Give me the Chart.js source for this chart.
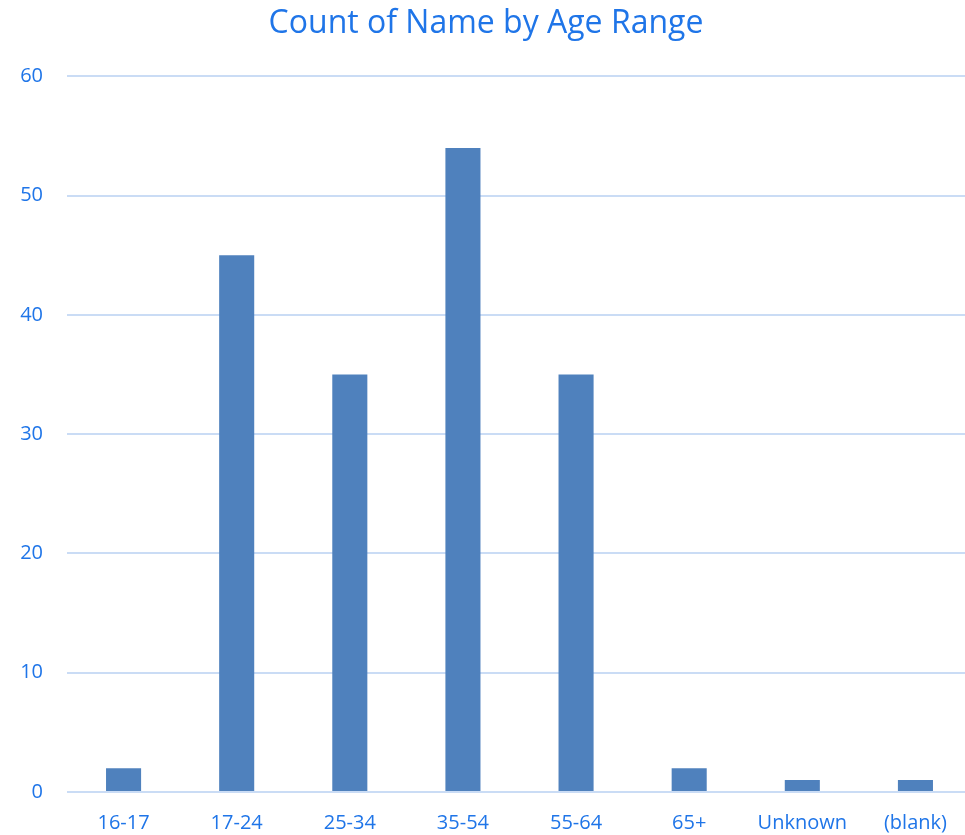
<!DOCTYPE html>
<html>
<head>
<meta charset="utf-8">
<script src="https://cdn.jsdelivr.net/npm/chart.js@4"></script>
<style>
  html, body { margin: 0; padding: 0; background: #fff; overflow: hidden; }
  #wrap { width: 972px; height: 835px; }
</style>
</head>
<body>
<div id="wrap"><canvas id="chart-bar-age" width="972" height="835"></canvas></div>
<script>
const ageRanges = ["16-17", "17-24", "25-34", "35-54", "55-64", "65+", "Unknown", "(blank)"];
const nameCounts = [2, 45, 35, 54, 35, 2, 1, 1];
const yTicks = [0, 10, 20, 30, 40, 50, 60];

const textBlue = "#1F75E8";
const gridBlue = "#CADCF5";

function createBarChart(labels, values) {
  const data = {
    labels: labels,
    datasets: [
      {
        label: "Count of Name",
        data: values,
        backgroundColor: "#4F81BD",
        categoryPercentage: 1,
        barPercentage: 0.31,
      },
    ],
  };

  new Chart(document.getElementById("chart-bar-age"), {
    type: "bar",
    data: data,
    options: {
      responsive: false,
      animation: false,
      layout: { padding: 0 },
      plugins: {
        legend: { display: false },
        tooltip: { enabled: false },
        title: {
          display: true,
          text: "Count of Name by Age Range",
          color: textBlue,
          font: { family: "Open Sans", size: 32, weight: "normal" },
          padding: { top: 5, bottom: 33 },
        },
      },
      scales: {
        x: {
          grid: { display: false, drawTicks: false },
          border: { display: false },
          ticks: {
            color: textBlue,
            font: { family: "Open Sans", size: 20 },
            padding: 19,
            maxRotation: 0,
          },
          afterFit: (scale) => (scale.height = 43),
        },
        y: {
          min: 0,
          max: 60,
          afterBuildTicks: (scale) => {
            scale.ticks = yTicks.map((v) => ({ value: v }));
          },
          grid: { color: gridBlue, lineWidth: 2, drawTicks: false },
          border: { display: false },
          ticks: {
            color: textBlue,
            font: { family: "Open Sans", size: 20 },
            padding: 24,
          },
          afterFit: (scale) => (scale.width = 67),
        },
      },
    },
  });
}

createBarChart(ageRanges, nameCounts);
</script>
</body>
</html>
